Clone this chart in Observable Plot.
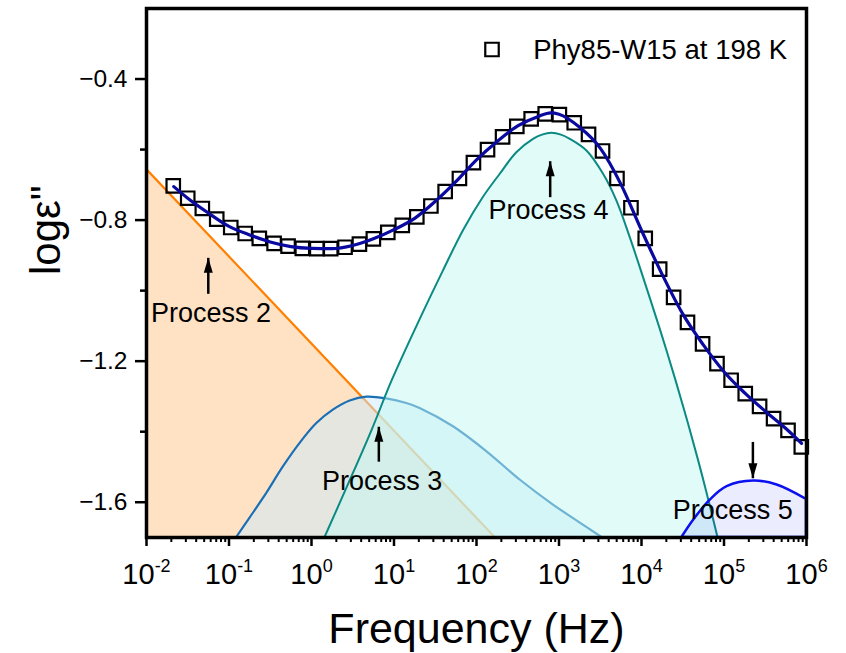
<!DOCTYPE html>
<html>
<head>
<meta charset="utf-8">
<script src="https://cdn.jsdelivr.net/npm/d3@7"></script>
<script src="https://cdn.jsdelivr.net/npm/@observablehq/plot@0.6"></script>
<style>
  html, body { margin: 0; padding: 0; background: #fff; }
  #chart svg { display: block; }
</style>
</head>
<body>
<div id="chart"></div>
<script>
// Measured dielectric loss, Phy85-W15 at 198 K (frequency in Hz, log10 of ε'')
const freqHz = [0.0211, 0.0316, 0.0475, 0.0710, 0.105, 0.157, 0.233, 0.352, 0.520, 0.774,
  1.16, 1.71, 2.55, 3.81, 5.62, 8.41, 12.6, 18.9, 28.0, 41.7,
  62.1, 91.8, 136, 207, 308, 460, 681, 1010, 1530, 2280,
  3370, 5040, 7450, 11100, 16600, 24500, 36100, 55000, 82200, 122000,
  181000, 270000, 399000, 597000, 865000];
const logEps = [-0.703, -0.738, -0.767, -0.797, -0.821, -0.838, -0.852, -0.866, -0.874, -0.880,
  -0.881, -0.881, -0.877, -0.868, -0.853, -0.835, -0.815, -0.791, -0.760, -0.719,
  -0.682, -0.637, -0.600, -0.564, -0.534, -0.513, -0.499, -0.501, -0.524, -0.557,
  -0.604, -0.682, -0.765, -0.852, -0.939, -1.019, -1.090, -1.151, -1.207, -1.254,
  -1.292, -1.328, -1.363, -1.396, -1.443];

// Overall fit curve
const fitHz = [0.0214, 0.0316, 0.0562, 0.1, 0.178, 0.316, 0.562, 1, 1.78, 3.16,
  5.62, 10, 17.8, 31.6, 56.2, 100, 178, 316, 562, 794,
  1000, 1780, 3160, 5620, 10000, 17800, 31600, 56200, 100000, 178000,
  316000, 562000, 871000];
const fitLogEps = [-0.705, -0.738, -0.780, -0.818, -0.842, -0.862, -0.875, -0.880, -0.881, -0.872,
  -0.853, -0.827, -0.795, -0.747, -0.691, -0.629, -0.577, -0.533, -0.506, -0.496,
  -0.500, -0.537, -0.596, -0.698, -0.829, -0.954, -1.066, -1.154, -1.230, -1.290,
  -1.342, -1.391, -1.433];

// Individual relaxation processes
const p2Hz = [0.01, 168];
const p2LogEps = [-0.656, -1.70];
const p3Hz = [0.124, 0.180, 0.287, 0.456, 0.728, 1.16, 1.84, 2.94, 4.68, 8.18,
  14.3, 20.7, 52.6, 134, 338, 857, 1810, 3310];
const p3LogEps = [-1.70, -1.645, -1.575, -1.500, -1.433, -1.377, -1.339, -1.313, -1.302, -1.307,
  -1.320, -1.334, -1.386, -1.457, -1.537, -1.608, -1.659, -1.70];
const p4Hz = [1.46, 2.86, 5.43, 9.57, 20.0, 39.8, 69.5, 121, 194, 308,
  491, 631, 820, 1070, 1370, 2180, 3470, 5040, 7290, 11100,
  16900, 26400, 36500, 49200, 63200, 84500];
const p4LogEps = [-1.70, -1.546, -1.396, -1.254, -1.09, -0.944, -0.830, -0.736, -0.670, -0.609,
  -0.571, -0.559, -0.554, -0.559, -0.571, -0.604, -0.670, -0.746, -0.849, -0.978,
  -1.110, -1.258, -1.372, -1.482, -1.580, -1.70];
const p5Hz = [30900, 42800, 68200, 109000, 229000, 440000, 1000000];
const p5LogEps = [-1.70, -1.651, -1.594, -1.556, -1.540, -1.551, -1.592];

// Annotations: label anchor and arrow (tail -> tip) for each process
const processNames = ["Process 2", "Process 3", "Process 4", "Process 5"];
const labelHz = [0.0605, 7.18, 746, 128000];
const labelLogEps = [-1.090, -1.565, -0.797, -1.648];
const arrowHz = [0.0561, 6.55, 782, 224000];
const arrowTail = [-1.009, -1.485, -0.735, -1.429];
const arrowTip = [-0.907, -1.386, -0.633, -1.532];

// Axes
const xDomain = [1e-2, 1e6];
const yDomain = [-1.7, -0.2];
const xTicks = [1e-2, 1e-1, 1, 10, 100, 1000, 1e4, 1e5, 1e6];
const xTickLabels = ["10^-2", "10^-1", "10^0", "10^1", "10^2", "10^3", "10^4", "10^5", "10^6"];
const yTicks = [-1.6, -1.2, -0.8, -0.4];
const yTickLabels = ["\u22121.6", "\u22121.2", "\u22120.8", "\u22120.4"];
const yMinorTicks = [-1.4, -1.0, -0.6];
const legendLabel = "Phy85-W15 at 198 K";
const xTitle = "Frequency (Hz)";
const yTitle = "log\u03B5\"";

const rows = (xs, ys) => xs.map((f, i) => ({f, v: ys[i]}));
const dataRows = rows(freqHz, logEps);
const fitRows = rows(fitHz, fitLogEps);

const processes = [
  {rows: rows(p2Hz, p2LogEps), fill: "#ff8000", fillOpacity: 0.23, stroke: "#ff8000", strokeWidth: 2.2, curve: "linear"},
  {rows: rows(p3Hz, p3LogEps), fill: "#cde9fb", fillOpacity: 0.5, stroke: "#1a6fb5", strokeWidth: 2.2, curve: "catmull-rom"},
  {rows: rows(p4Hz, p4LogEps), fill: "#c2f8f2", fillOpacity: 0.5, stroke: "#0b8a84", strokeWidth: 2, curve: "catmull-rom"},
  {rows: rows(p5Hz, p5LogEps), fill: "#2030f0", fillOpacity: 0.09, stroke: "#0a10f0", strokeWidth: 2.5, curve: "catmull-rom"}
];

const annotations = processNames.map((name, i) => ({
  name, lf: labelHz[i], lv: labelLogEps[i], af: arrowHz[i], tail: arrowTail[i], tip: arrowTip[i]
}));

const xLabelByTick = new Map(xTicks.map((t, i) => [t, xTickLabels[i]]));
const yLabelByTick = new Map(yTicks.map((t, i) => [t, yTickLabels[i]]));
const xMinorTicks = d3.scaleLog().domain(xDomain).ticks(100).filter(t => !xTicks.includes(t));

// Narrow filled arrowhead with its tip at the symbol origin, pointing up
const arrowHead = {
  draw(context) {
    context.moveTo(0, 0);
    context.lineTo(4.5, 15);
    context.lineTo(-4.5, 15);
    context.closePath();
  }
};

const chart = Plot.plot({
  width: 846,
  height: 653,
  marginLeft: 146,
  marginRight: 40,
  marginTop: 8,
  marginBottom: 116,
  style: {fontFamily: '"Liberation Sans", Arial, sans-serif', background: "#fff", color: "#000"},
  x: {type: "log", domain: xDomain, label: null},
  y: {domain: yDomain, label: null},
  marks: [
    ...processes.map(p => Plot.areaY(p.rows, {
      x: "f", y1: yDomain[0], y2: "v",
      fill: p.fill, fillOpacity: p.fillOpacity,
      stroke: p.stroke, strokeWidth: p.strokeWidth, curve: p.curve, clip: true
    })),
    Plot.dot(dataRows, {x: "f", y: "v", symbol: "square", r: 7.6, stroke: "#000", strokeWidth: 2.2, fill: "none"}),
    Plot.line(fitRows, {x: "f", y: "v", stroke: "#0a0aa0", strokeWidth: 3.2, curve: "monotone-x"}),
    Plot.link(annotations, {x1: "af", x2: "af", y1: "tail", y2: "tip", stroke: "#000", strokeWidth: 2.5}),
    Plot.dot(annotations, {x: "af", y: "tip", symbol: arrowHead, r: 5, fill: "#000", stroke: "none",
      rotate: d => (d.tip > d.tail ? 0 : 180)}),
    Plot.text(annotations, {x: "lf", y: "lv", text: "name", lineAnchor: "bottom", fontSize: 27, fill: "#000"}),
    // legend
    Plot.dot([legendLabel], {frameAnchor: "top-right", dx: -314.5, dy: 41, symbol: "square", r: 7.6,
      stroke: "#000", strokeWidth: 2.2, fill: "none"}),
    Plot.text([legendLabel], {frameAnchor: "top-right", text: d => d, textAnchor: "end", lineAnchor: "bottom",
      dx: -19.5, dy: 50, fontSize: 27.5, fill: "#000"}),
    // axes
    Plot.frame({stroke: "#000", strokeWidth: 3.5}),
    Plot.axisX(xTicks, {tickSize: 9, tickPadding: 17, strokeWidth: 2.5, fontSize: 29,
      tickFormat: d => xLabelByTick.get(d), label: null}),
    Plot.axisX(xMinorTicks, {tickSize: 5, strokeWidth: 2, tickFormat: () => "", label: null}),
    Plot.axisY(yTicks, {tickSize: 11, tickPadding: 8, strokeWidth: 2.5, fontSize: 24.5,
      tickFormat: d => yLabelByTick.get(d), label: null}),
    Plot.axisY(yMinorTicks, {tickSize: 6, strokeWidth: 2.5, tickFormat: () => "", label: null}),
    // axis titles
    Plot.text([xTitle], {frameAnchor: "bottom", text: d => d, lineAnchor: "bottom", dy: 105, fontSize: 43, fill: "#000"}),
    Plot.text([yTitle], {frameAnchor: "left", text: d => d, rotate: -90, lineAnchor: "bottom", dx: -87, dy: 2,
      fontSize: 42, fill: "#000"})
  ]
});

// Decade labels: set the exponent as a raised, smaller tspan
d3.select(chart).selectAll('g[aria-label="x-axis tick label"] text').each(function () {
  const s = this.textContent;
  if (!s.includes("^")) return;
  const [base, exp] = s.split("^");
  const t = d3.select(this);
  t.text(null);
  t.append("tspan").text(base);
  t.append("tspan").attr("dy", -12).attr("font-size", 18).text(exp);
});

document.getElementById("chart").append(chart);
</script>
</body>
</html>
